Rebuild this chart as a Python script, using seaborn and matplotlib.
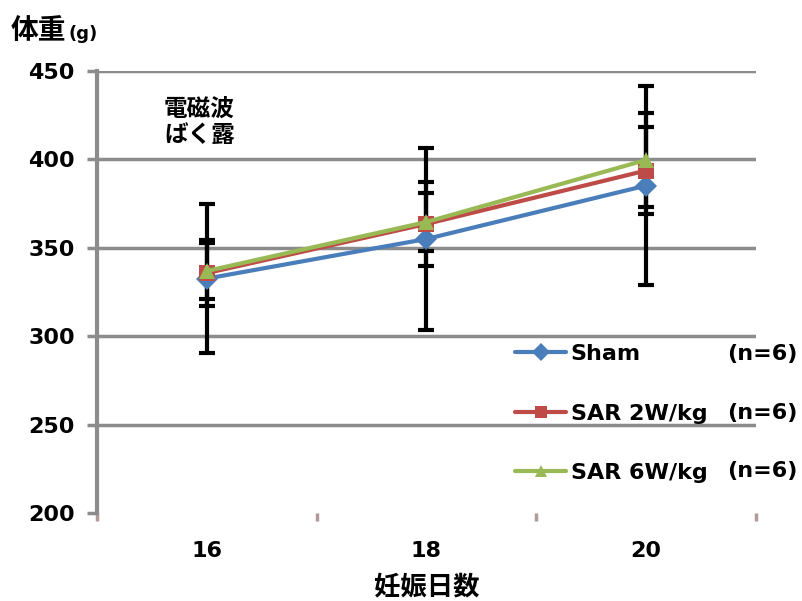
import matplotlib
matplotlib.use("Agg")
import matplotlib.pyplot as plt
import seaborn as sns
import pandas as pd
from matplotlib.ticker import FixedLocator

# ---- data ----
days = ["16", "18", "20"]
groups = ["Sham", "SAR 2W/kg", "SAR 6W/kg"]
sham_mean = [332.6, 355.0, 385.2]
sham_err = [42.1, 51.5, 56.3]
sar2_mean = [335.7, 363.5, 393.7]
sar2_err = [18.7, 23.8, 24.6]
sar6_mean = [336.9, 364.6, 399.7]
sar6_err = [15.8, 16.4, 26.6]
n_labels = ["(n=6)", "(n=6)", "(n=6)"]
y_ticks = [200, 250, 300, 350, 400, 450]

colors = {"Sham": "#4a7ebb", "SAR 2W/kg": "#be4b48", "SAR 6W/kg": "#98b954"}
markers = {"Sham": "D", "SAR 2W/kg": "s", "SAR 6W/kg": "^"}

means = [sham_mean, sar2_mean, sar6_mean]
errs = [sham_err, sar2_err, sar6_err]
rows = []
for g, m, e in zip(groups, means, errs):
    for d, mv, ev in zip(days, m, e):
        rows.append({"group": g, "day": d, "weight": mv, "err": ev})
df = pd.DataFrame(rows)

sns.set_theme(style="white")
plt.rcParams["font.family"] = ["DejaVu Sans", "Noto Sans CJK JP"]
plt.rcParams["text.color"] = "black"
plt.rcParams["xtick.labelcolor"] = "black"
plt.rcParams["ytick.labelcolor"] = "black"
plt.rcParams["axes.labelcolor"] = "black"
jp = ["Noto Sans CJK JP", "DejaVu Sans"]

W, H = 803, 601
fig = plt.figure(figsize=(W / 100, H / 100), dpi=100)
ax = fig.add_axes([97 / W, 1 - 513 / H, (756 - 97) / W, (513 - 71) / H])

# error bars (behind lines)
for g in groups:
    sub = df[df.group == g]
    ax.errorbar(sub["day"], sub["weight"], yerr=sub["err"], fmt="none",
                ecolor="black", elinewidth=3, capsize=6, capthick=3, zorder=2)

sns.lineplot(data=df, x="day", y="weight", hue="group", style="group",
             markers=markers, dashes=False, palette=colors, linewidth=3,
             markersize=11, markeredgewidth=0, sort=False, ax=ax, zorder=3)

ax.set_xlim(-0.5, 2.5)
ax.set_ylim(200, 450)
ax.set_yticks(y_ticks)
ax.set_yticklabels([str(v) for v in y_ticks], fontsize=16, fontweight="bold")
ax.set_xticks([0, 1, 2])
ax.set_xticklabels(days, fontsize=16, fontweight="bold")
ax.xaxis.set_minor_locator(FixedLocator([-0.5, 0.5, 1.5, 2.5]))
ax.tick_params(axis="x", which="major", length=0, pad=20)
ax.tick_params(axis="x", which="minor", bottom=True, length=6, width=2.5,
               color="#b09a9a", direction="out")
ax.tick_params(axis="y", which="major", left=True, length=7, width=2.5,
               color="#8c8c8c", pad=9)

ax.grid(axis="y", color="#8c8c8c", linewidth=2.5)
ax.grid(axis="x", visible=False)
ax.set_axisbelow(True)
for s in ["top", "right", "bottom"]:
    ax.spines[s].set_visible(False)
ax.spines["left"].set_color("#8c8c8c")
ax.spines["left"].set_linewidth(3)
ax.set_ylabel("")
ax.set_xlabel("妊娠日数", fontsize=19, fontweight="bold", family=jp)
ax.xaxis.set_label_coords(0.5, (513 - 573) / 442)

fig.canvas.draw()
ax.yaxis.get_gridlines()[0].set_visible(False)

handles, labels = ax.get_legend_handles_labels()
if ax.get_legend():
    ax.get_legend().remove()
leg = fig.legend(handles, labels, loc="upper left",
                 bbox_to_anchor=(515 / W, 1 - 344 / H), frameon=False,
                 prop={"size": 16, "weight": "bold"}, handlelength=2.3,
                 handletextpad=0.2, labelspacing=1.78, borderpad=0,
                 borderaxespad=0, markerscale=0.85)

for i, t in enumerate(n_labels):
    fig.text(727 / W, 1 - (354 + 58.5 * i) / H, t, fontsize=16,
             fontweight="bold", va="center", ha="left")

fig.text(11 / W, 1 - 31 / H, "体重", fontsize=20, fontweight="bold",
         family=jp, va="center", ha="left")
fig.text(68 / W, 1 - 34 / H, "(g)", fontsize=13, fontweight="bold",
         va="center", ha="left")
fig.text(164 / W, 1 - 97 / H, "電磁波\nばく露", fontsize=17, fontweight="bold",
         family=jp, va="top", ha="left", linespacing=1.1)

fig.savefig("out.png", dpi=100)
